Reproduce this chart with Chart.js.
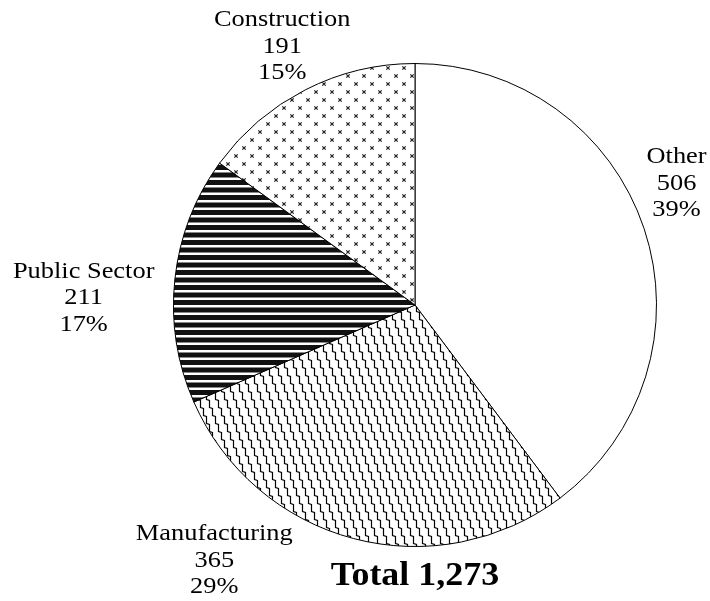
<!DOCTYPE html>
<html>
<head>
<meta charset="utf-8">
<script src="https://cdn.jsdelivr.net/npm/chart.js@4"></script>
<style>
  html, body { margin: 0; padding: 0; background: #fff; }
  #wrap { width: 710px; height: 601px; }
</style>
</head>
<body>
<div id="wrap"><canvas id="sectorChart" width="710" height="601"></canvas></div>
<script>
const sectors = ['Other', 'Manufacturing', 'Public Sector', 'Construction'];
const counts = [506, 365, 211, 191];
const percents = ['39%', '29%', '17%', '15%'];
const totalLabel = 'Total 1,273';

// label block centres, in units of the pie radius from the pie centre
const labelOffsets = [[1.083, -0.504], [-0.831, 1.058], [-1.372, -0.029], [-0.55, -1.07]];

const serif = '"Liberation Serif", "Times New Roman", Times, serif';

function makeTile(w, h, draw) {
  const c = document.createElement('canvas');
  c.width = w; c.height = h;
  const ctx = c.getContext('2d');
  ctx.fillStyle = '#fff';
  ctx.fillRect(0, 0, w, h);
  draw(ctx);
  return ctx.createPattern(c, 'repeat');
}

// stepped lines: vertical runs with a short jog to the right
const zigzag = makeTile(9, 24, ctx => {
  ctx.strokeStyle = '#000';
  ctx.lineWidth = 1.2;
  for (let k = -2; k <= 1; k++) {
    let x = k * 9 + 2.5, y = -8;
    ctx.beginPath();
    ctx.moveTo(x - 3, y - 0.5);
    for (let i = 0; i < 5; i++) {
      ctx.lineTo(x, y + 0.5);
      ctx.lineTo(x, y + 7.5);
      x += 3; y += 8;
    }
    ctx.stroke();
  }
});

const stripes = makeTile(8, 15, ctx => {
  ctx.fillStyle = '#111';
  ctx.fillRect(0, 0, 8, 5);
  ctx.fillRect(0, 7.5, 8, 5);
});

const crosses = makeTile(16, 16, ctx => {
  ctx.strokeStyle = '#222';
  ctx.lineWidth = 1.2;
  [[4, 4], [12, 12]].forEach(([x, y]) => {
    ctx.beginPath();
    ctx.moveTo(x - 1.7, y - 1.7); ctx.lineTo(x + 1.7, y + 1.7);
    ctx.moveTo(x + 1.7, y - 1.7); ctx.lineTo(x - 1.7, y + 1.7);
    ctx.stroke();
  });
});

function stretchedText(ctx, text, x, y, sx) {
  ctx.save();
  ctx.translate(x, y);
  ctx.scale(sx, 1);
  ctx.fillText(text, 0, 0);
  ctx.restore();
}

const sliceLabels = {
  id: 'sliceLabels',
  afterDraw(chart) {
    const ctx = chart.ctx;
    const arcs = chart.getDatasetMeta(0).data;
    if (!arcs.length) return;
    const cx = arcs[0].x, cy = arcs[0].y, r = arcs[0].outerRadius;
    ctx.save();
    ctx.fillStyle = '#000';
    ctx.textAlign = 'center';
    ctx.textBaseline = 'middle';
    ctx.font = '24px ' + serif;
    const lineH = 26.5;
    sectors.forEach((name, i) => {
      const x = cx + labelOffsets[i][0] * r;
      const y = cy + labelOffsets[i][1] * r;
      const lines = [name, String(counts[i]), percents[i]];
      lines.forEach((t, j) => stretchedText(ctx, t, x, y + (j - 1) * lineH, 1.1));
    });
    ctx.font = 'bold 33px ' + serif;
    ctx.textBaseline = 'alphabetic';
    stretchedText(ctx, totalLabel, cx, cy + r + 38, 1.09);
    ctx.restore();
  }
};

function buildChart() {
  new Chart(document.getElementById('sectorChart'), {
    type: 'pie',
    data: {
      labels: sectors,
      datasets: [{
        data: counts,
        backgroundColor: ['#ffffff', zigzag, stripes, crosses],
        borderColor: '#000',
        borderWidth: 1
      }]
    },
    options: {
      responsive: false,
      animation: false,
      devicePixelRatio: 1,
      layout: { padding: { left: 173, right: 53, top: 63, bottom: 54 } },
      plugins: {
        legend: { display: false },
        tooltip: { enabled: false },
        title: { display: false }
      }
    },
    plugins: [sliceLabels]
  });
}

Promise.all([
  document.fonts.load('24px "Liberation Serif"'),
  document.fonts.load('bold 33px "Liberation Serif"')
]).catch(() => {}).then(buildChart);
</script>
</body>
</html>
